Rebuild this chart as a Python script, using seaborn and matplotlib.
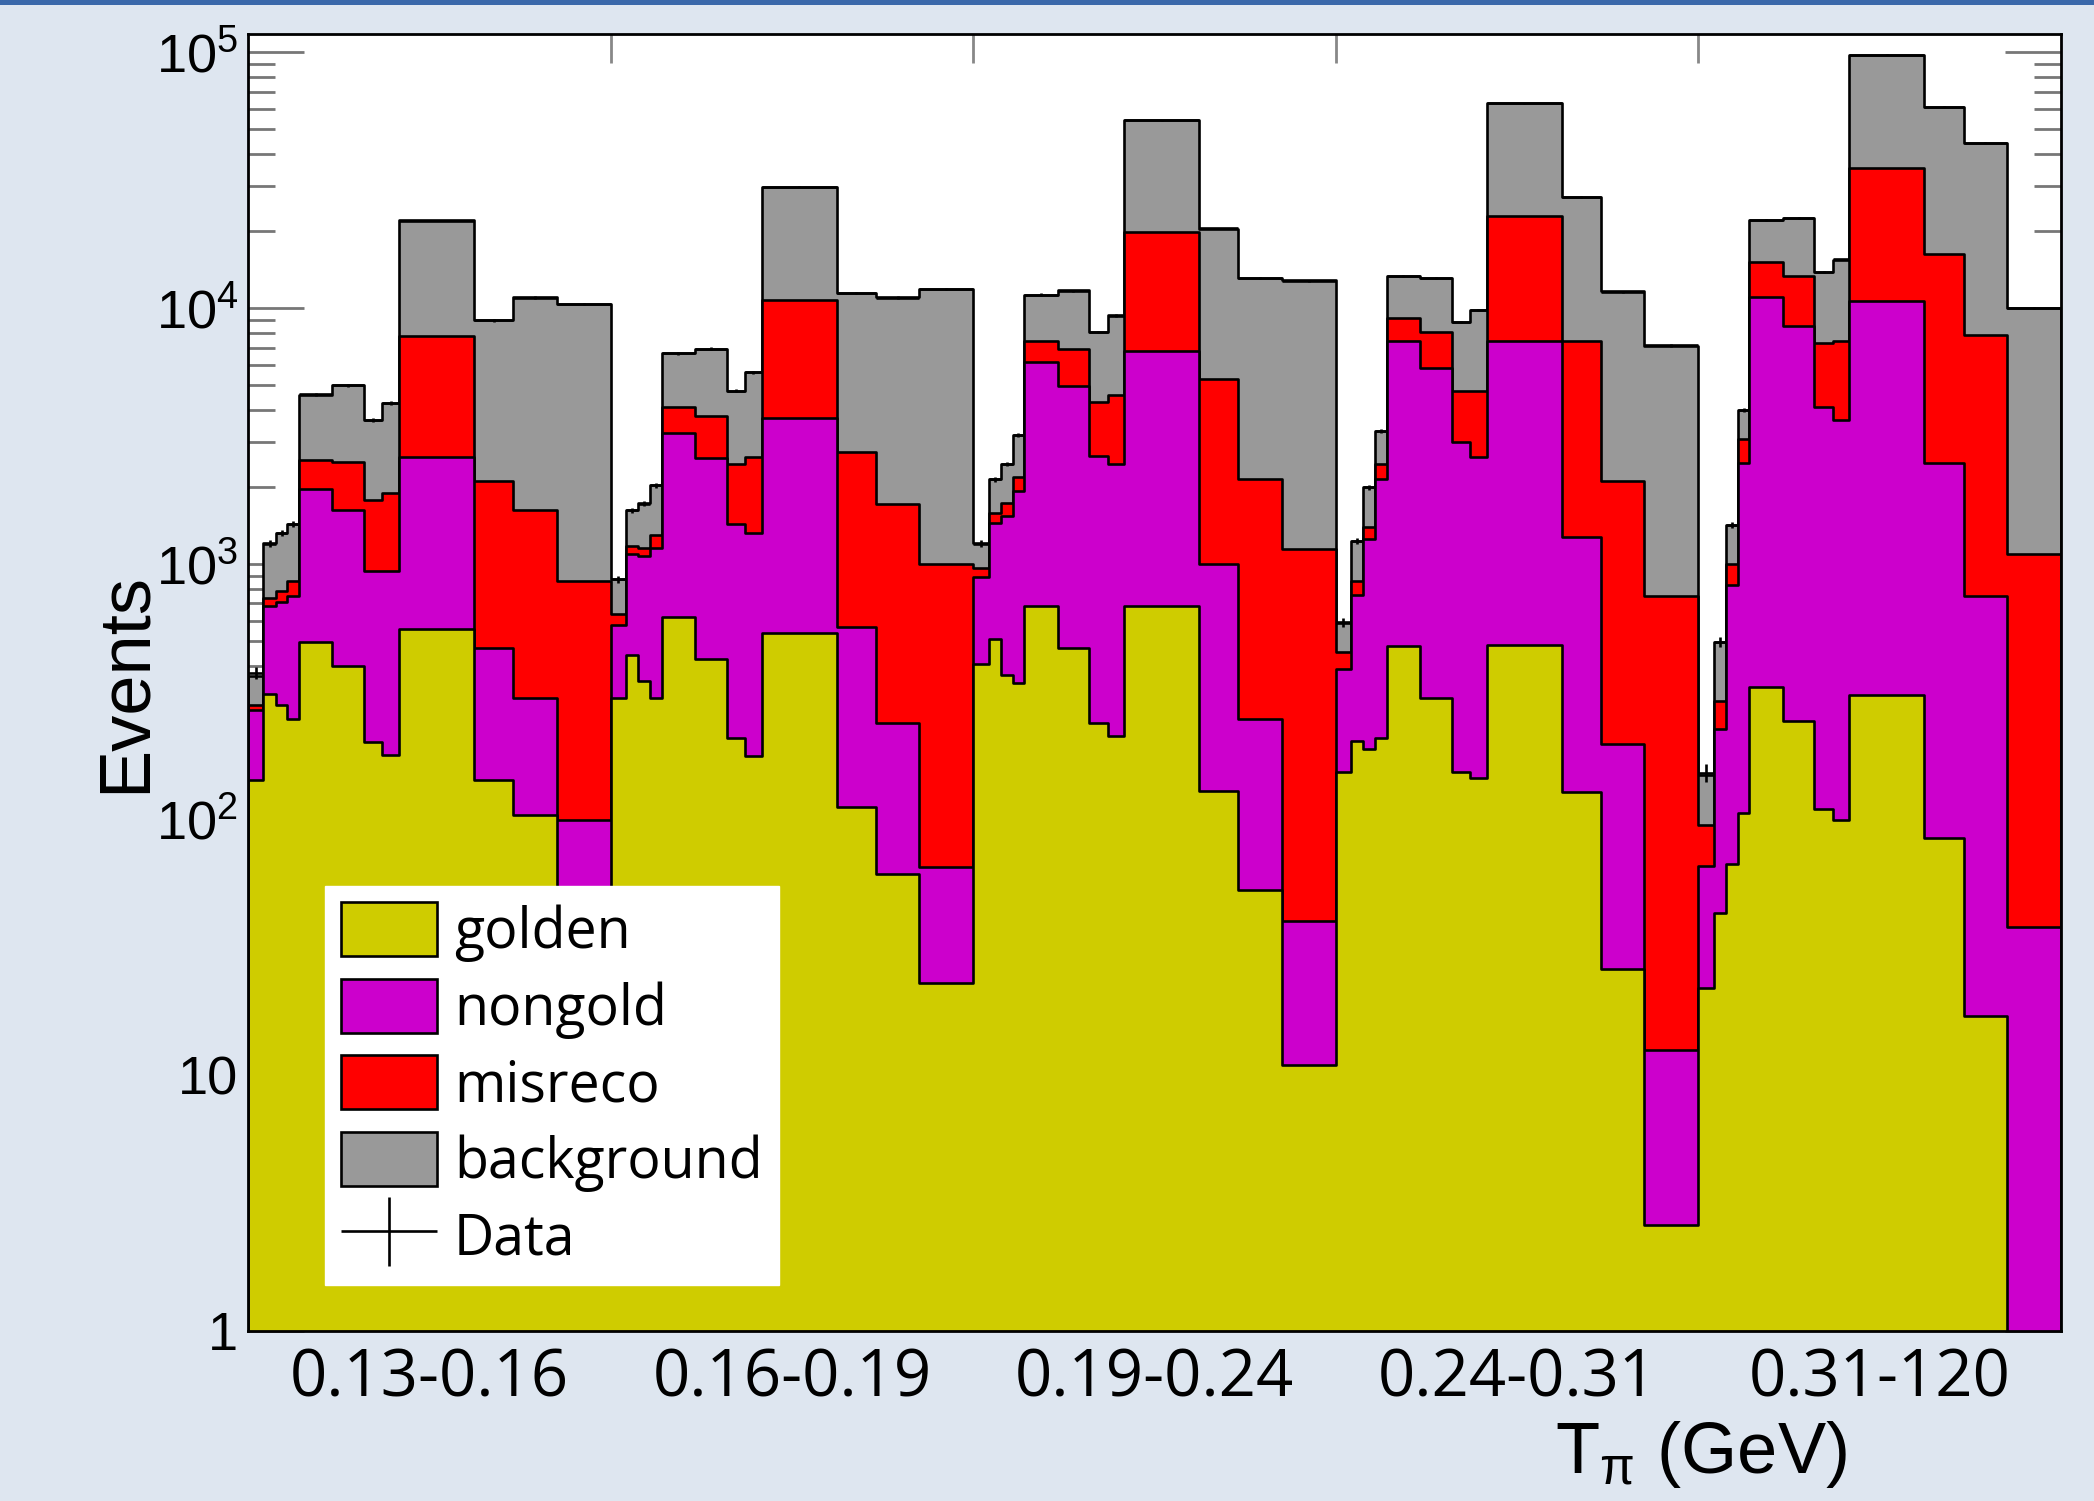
import numpy as np
import pandas as pd
import matplotlib
matplotlib.use("Agg")
import matplotlib.pyplot as plt
import seaborn as sns
from matplotlib.patches import Patch, Rectangle
from matplotlib.ticker import FixedLocator, LogLocator, NullFormatter
from matplotlib.legend_handler import HandlerErrorbar

# ---------------- data ----------------
groups = ["0.13-0.16", "0.16-0.19", "0.19-0.24", "0.24-0.31", "0.31-120"]
# inner bin edges inside each T_pi group (fraction of the group width)
inner_edges = [0.0, 0.0423, 0.0763, 0.1085, 0.1406, 0.2325, 0.3199,
               0.3704, 0.4164, 0.6232, 0.7316, 0.8511, 1.0]

golden = [143, 310, 281, 248, 495, 398, 201, 179, 558, 143, 104, 40,
          299, 442, 347, 299, 620, 426, 208, 177, 537, 112, 61, 23,
          404, 506, 369, 342, 684, 469, 239, 213, 684, 129, 53, 11,
          154, 202, 188, 208, 476, 299, 154, 146, 480, 128, 26, 2.6,
          22, 43, 67, 106, 330, 242, 110, 100, 306, 85, 17, 0]
nongold = [124, 374, 429, 502, 1464, 1225, 736, 761, 2049, 326, 195, 60,
           280, 647, 723, 858, 2623, 2162, 1220, 1138, 3178, 454, 178, 42,
           485, 943, 1171, 1587, 5456, 4471, 2409, 2242, 6096, 866, 195, 29,
           235, 552, 1060, 1935, 6994, 5531, 2852, 2461, 6930, 1148, 172, 9.9,
           44, 182, 758, 2384, 10710, 8248, 3983, 3556, 10334, 2405, 731, 38]
misreco = [14, 53, 72, 107, 588, 889, 841, 948, 5155, 1644, 1324, 757,
           55, 86, 87, 138, 850, 1209, 1027, 1292, 7075, 2182, 1472, 930,
           70, 137, 183, 249, 1330, 1990, 1665, 2125, 13080, 4295, 1895, 1100,
           63, 103, 149, 312, 1680, 2220, 1751, 2150, 15490, 6194, 1915, 736,
           29, 67, 170, 586, 4110, 4840, 3217, 3754, 24760, 13840, 7122, 1059]
background = [84, 465, 533, 571, 2033, 2500, 1878, 2361, 14308, 6837, 9417, 9543,
              235, 448, 566, 739, 2577, 3133, 2302, 3003, 19010, 8712, 9329, 10915,
              243, 557, 732, 1014, 3830, 4800, 3737, 4780, 34470, 15170, 10977, 11690,
              136, 371, 593, 863, 4180, 5070, 4053, 5103, 40300, 19750, 9527, 6392,
              55, 203, 424, 924, 6920, 9220, 6530, 8080, 62400, 45050, 36490, 8923]
data = [375, 1200, 1320, 1430, 4600, 5000, 3650, 4250, 22000, 8950, 11000, 10400,
        870, 1620, 1720, 2030, 6650, 6950, 4750, 5600, 29800, 11500, 11000, 11900,
        1200, 2140, 2460, 3190, 11300, 11700, 8050, 9350, 54300, 20500, 13100, 12800,
        590, 1230, 1990, 3320, 13300, 13100, 8800, 9850, 63200, 27200, 11600, 7150,
        152, 495, 1420, 4000, 22100, 22500, 13800, 15500, 97800, 61400, 44400, 10000]

y_ticks = [1, 10, 100, 1000, 10000, 100000]
y_tick_labels = ["1", "10", "$10^{2}$", "$10^{3}$", "$10^{4}$", "$10^{5}$"]

components = ["golden", "nongold", "misreco", "background"]
colors = {"golden": "#cfcc00", "nongold": "#cc00cc",
          "misreco": "#ff0000", "background": "#999999"}

# ---------------- build table ----------------
edges = np.unique(np.round([g + f for g in range(len(groups)) for f in inner_edges], 6))
centers = 0.5 * (edges[:-1] + edges[1:])
widths = np.diff(edges)
bin_list = [float(e) for e in edges]

df = pd.DataFrame({"x": centers, "golden": golden, "nongold": nongold,
                   "misreco": misreco, "background": background, "data": data})
cum = df[components].cumsum(axis=1)
for c in components:
    df["cum_" + c] = cum[c].astype(float)

# ---------------- style ----------------
sns.set_style("ticks")
plt.rcParams["font.family"] = ["Liberation Sans", "DejaVu Sans"]
plt.rcParams["mathtext.default"] = "regular"
plt.rcParams["text.color"] = "black"
plt.rcParams["axes.labelcolor"] = "black"
plt.rcParams["xtick.labelcolor"] = "black"
plt.rcParams["ytick.labelcolor"] = "black"

fig = plt.figure(figsize=(20.94, 15.01), dpi=100)
fig.patch.set_facecolor("#dee6f0")
ax = fig.add_axes([248 / 2094, 1 - 1331 / 1501, (2061 - 248) / 2094, (1331 - 34) / 1501])
ax.set_facecolor("white")

# draw the stack from the top (total) down, as THStack does
for c in components[::-1]:
    sns.histplot(data=df, x="x", weights="cum_" + c, bins=bin_list, element="step",
                 fill=True, color=colors[c], alpha=1, edgecolor="black",
                 linewidth=1.9, legend=False, ax=ax)

eb = ax.errorbar(df["x"], df["data"], xerr=widths / 2, yerr=np.sqrt(df["data"]),
                 fmt="none", ecolor="black", elinewidth=1.9, capsize=0,
                 label="Data", zorder=3)

ax.set_yscale("log")
ax.set_xlim(0, len(groups))
ax.set_ylim(1, 1.18e5)

# x axis
ax.set_xticks(np.arange(len(groups)) + 0.5)
ax.set_xticklabels(groups, fontfamily="Open Sans", fontsize=47, color="black")
ax.xaxis.set_minor_locator(FixedLocator(np.arange(1, len(groups))))
ax.tick_params(axis="x", which="major", length=0, pad=11, labelcolor="black")
ax.tick_params(axis="x", which="minor", length=21, width=2, color="#888888",
               direction="in", top=True, bottom=True)

# y axis
ax.set_yticks(y_ticks)
ax.set_yticklabels(y_tick_labels, fontsize=39, color="black")
ax.yaxis.set_minor_locator(LogLocator(base=10, subs=np.arange(2, 10), numticks=30))
ax.yaxis.set_minor_formatter(NullFormatter())
ax.tick_params(axis="y", which="major", length=40, width=2, color="#777777",
               direction="in", left=True, right=True, pad=7, labelcolor="black")
ax.tick_params(axis="y", which="minor", length=19.5, width=2, color="#777777",
               direction="in", left=True, right=True)
ax.set_ylim(1, 1.18e5)

for s in ax.spines.values():
    s.set_color("black")
    s.set_linewidth(2)

ax.set_ylabel("Events", fontsize=52, color="black")
ax.yaxis.set_label_coords(-0.049, 0.5)
ax.set_xlabel("T$_{π}$ (GeV)", fontsize=52, color="black")
ax.xaxis.set_label_coords(0.8014, -0.068)

# legend
handles = [Patch(facecolor=colors[c], edgecolor="black", linewidth=1.9) for c in components]
handles.append(eb)
labels = components + ["Data"]
leg = ax.legend(handles, labels, loc="lower left", bbox_to_anchor=(0.0422, 0.0355),
                prop={"family": "Open Sans", "size": 40}, frameon=True, fancybox=False,
                framealpha=1, facecolor="white", edgecolor="white",
                borderpad=0.3, handlelength=1.73, handleheight=1.12,
                handletextpad=0.3, labelspacing=0.30, borderaxespad=0,
                handler_map={type(eb): HandlerErrorbar(xerr_size=0.86, yerr_size=0.62)})
for t in leg.get_texts():
    t.set_color("black")

# slide top border
fig.patches.append(Rectangle((0, 1 - 5 / 1501), 1, 5 / 1501, transform=fig.transFigure,
                             facecolor="#3a68aa", edgecolor="none"))

fig.savefig("out.png", dpi=100, facecolor=fig.get_facecolor())
